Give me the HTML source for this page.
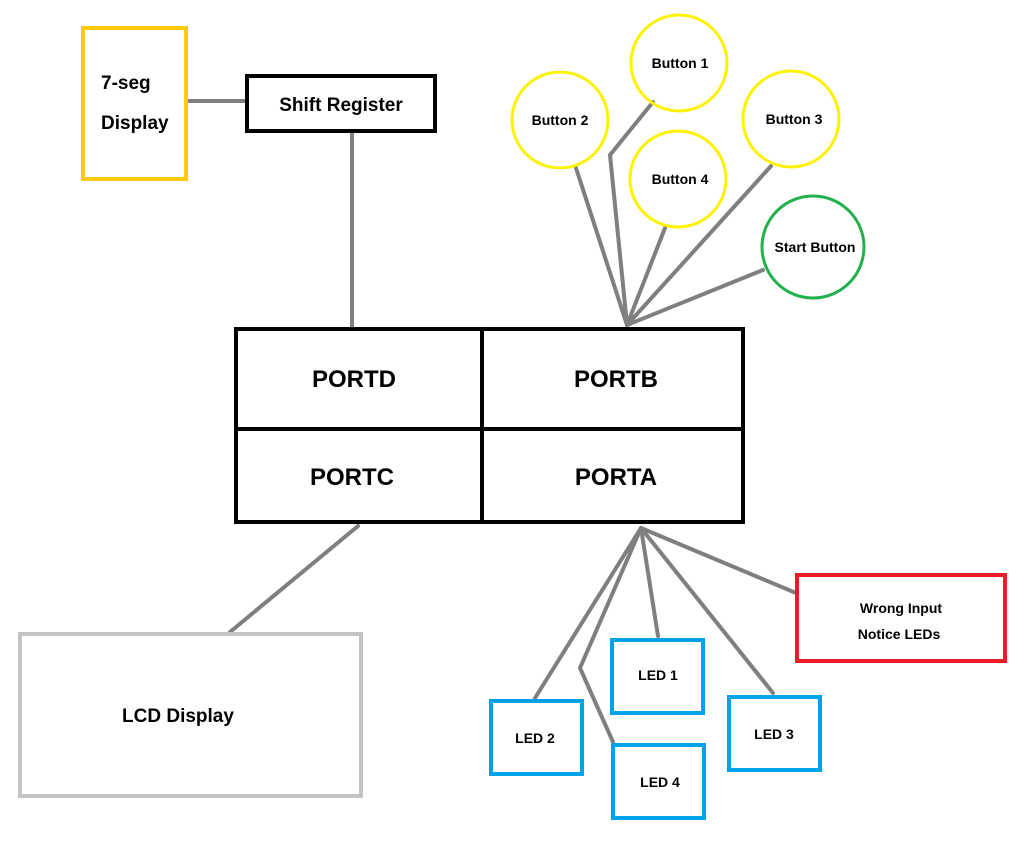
<!DOCTYPE html>
<html><head><meta charset="utf-8"><style>
html,body{margin:0;padding:0;background:#fff;}
svg text{font-family:"Liberation Sans","Noto Sans CJK KR",sans-serif;font-weight:bold;fill:#000;}
</style></head><body>
<svg width="1025" height="836" viewBox="0 0 1025 836" xmlns="http://www.w3.org/2000/svg">
<g stroke="#7f7f7f" stroke-width="4" fill="none" stroke-linecap="round">
<line x1="187" y1="101" x2="246" y2="101"/>
<line x1="352" y1="132" x2="352" y2="328"/>
<line x1="576" y1="168" x2="627" y2="325"/>
<polyline points="653,102 610,155 627,325"/>
<line x1="665" y1="228" x2="627" y2="325"/>
<line x1="771" y1="166" x2="627" y2="325"/>
<line x1="763" y1="270" x2="627" y2="325"/>
<line x1="358" y1="526" x2="230" y2="632"/>
<line x1="641" y1="528" x2="535" y2="698"/>
<polyline points="641,528 580,668 613,742"/>
<line x1="641" y1="528" x2="658" y2="636"/>
<line x1="641" y1="528" x2="773" y2="693"/>
<line x1="641" y1="528" x2="796" y2="593"/>
</g>
<rect x="83" y="28" width="103" height="151" fill="none" stroke="#ffc90e" stroke-width="4"/>
<rect x="247" y="76" width="188" height="55" fill="none" stroke="#000" stroke-width="4"/>
<rect x="236" y="329" width="507" height="193" fill="none" stroke="#000" stroke-width="4"/>
<line x1="482" y1="329" x2="482" y2="522" stroke="#000" stroke-width="4"/>
<line x1="236" y1="429" x2="743" y2="429" stroke="#000" stroke-width="4"/>
<g fill="none" stroke="#fff200" stroke-width="3">
<circle cx="679" cy="63" r="48"/>
<circle cx="560" cy="120" r="48"/>
<circle cx="791" cy="119" r="48"/>
<circle cx="678" cy="179" r="48"/>
</g>
<circle cx="813" cy="247" r="51" fill="none" stroke="#22b14c" stroke-width="3"/>
<rect x="20" y="634" width="341" height="162" fill="none" stroke="#c3c3c3" stroke-width="4"/>
<rect x="797" y="575" width="208" height="86" fill="none" stroke="#ed1c24" stroke-width="4"/>
<g fill="none" stroke="#00a2e8" stroke-width="4">
<rect x="491" y="701" width="91" height="73"/>
<rect x="612" y="640" width="91" height="73"/>
<rect x="729" y="697" width="91" height="73"/>
<rect x="613" y="745" width="91" height="73"/>
</g>
<text x="101" y="89" font-size="19">7-seg</text>
<text x="101" y="129" font-size="19">Display</text>
<text x="341" y="111" font-size="19" text-anchor="middle">Shift Register</text>
<text x="354" y="387" font-size="24" text-anchor="middle">PORTD</text>
<text x="616" y="387" font-size="24" text-anchor="middle">PORTB</text>
<text x="352" y="485" font-size="24" text-anchor="middle">PORTC</text>
<text x="616" y="485" font-size="24" text-anchor="middle">PORTA</text>
<g font-size="14" text-anchor="middle">
<text x="680" y="68">Button 1</text>
<text x="560" y="125">Button 2</text>
<text x="794" y="124">Button 3</text>
<text x="680" y="184">Button 4</text>
<text x="815" y="252">Start Button</text>
<text x="901" y="613">Wrong Input</text>
<text x="899" y="639">Notice LEDs</text>
<text x="658" y="680">LED 1</text>
<text x="535" y="743">LED 2</text>
<text x="774" y="739">LED 3</text>
<text x="660" y="787">LED 4</text>
</g>
<text x="178" y="722" font-size="19" text-anchor="middle">LCD Display</text>
</svg>
</body></html>
